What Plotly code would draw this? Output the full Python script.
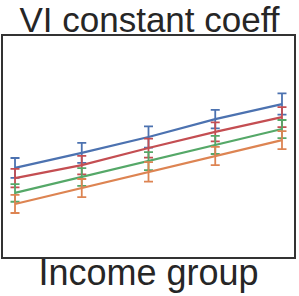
import plotly.graph_objects as go

groups = [0, 1, 2, 3, 4]
series_names = ["s1", "s2", "s3", "s4"]
blue_vals = [4.03, 4.71, 5.43, 6.24, 6.92]
red_vals = [3.57, 4.16, 4.93, 5.66, 6.33]
green_vals = [2.90, 3.62, 4.34, 5.07, 5.79]
orange_vals = [2.40, 3.12, 3.85, 4.57, 5.29]
blue_err = [0.45, 0.45, 0.48, 0.42, 0.48]
red_err = [0.42, 0.42, 0.43, 0.43, 0.45]
green_err = [0.40, 0.40, 0.41, 0.41, 0.41]
orange_err = [0.41, 0.41, 0.44, 0.41, 0.41]

colors = ["#4C72B0", "#C44E52", "#55A868", "#DD8452"]
vals = [blue_vals, red_vals, green_vals, orange_vals]
errs = [blue_err, red_err, green_err, orange_err]

fig = go.Figure()
for name, v, e, c in zip(series_names, vals, errs, colors):
    fig.add_trace(go.Scatter(
        x=groups, y=v, mode="lines", name=name,
        line=dict(color=c, width=2.2),
        error_y=dict(type="data", array=e, visible=True, color=c, thickness=1.8, width=4.5),
        showlegend=False,
    ))

fig.update_layout(
    width=299, height=296,
    margin=dict(l=3, r=3, t=36, b=39),
    paper_bgcolor="white", plot_bgcolor="white",
    title=dict(text="VI constant coeff", x=0.5, xanchor="center", y=0.9324, yanchor="middle",
               font=dict(family="Liberation Sans, Arial", size=35, color="#262626")),
    font=dict(family="Liberation Sans, Arial", color="#262626"),
)
fig.update_xaxes(range=[-0.18, 4.18], showticklabels=False, ticks="", showgrid=False, zeroline=False,
                 showline=True, mirror=True, linecolor="#333333", linewidth=1.5,
                 title=dict(text="Income group", font=dict(size=36, color="#262626"), standoff=2))
fig.update_yaxes(range=[0, 10], showticklabels=False, ticks="", showgrid=False, zeroline=False,
                 showline=True, mirror=True, linecolor="#333333", linewidth=1.5)

fig.write_html("out.html", config={"displayModeBar": False},
               post_script="document.body.style.margin='0';")
